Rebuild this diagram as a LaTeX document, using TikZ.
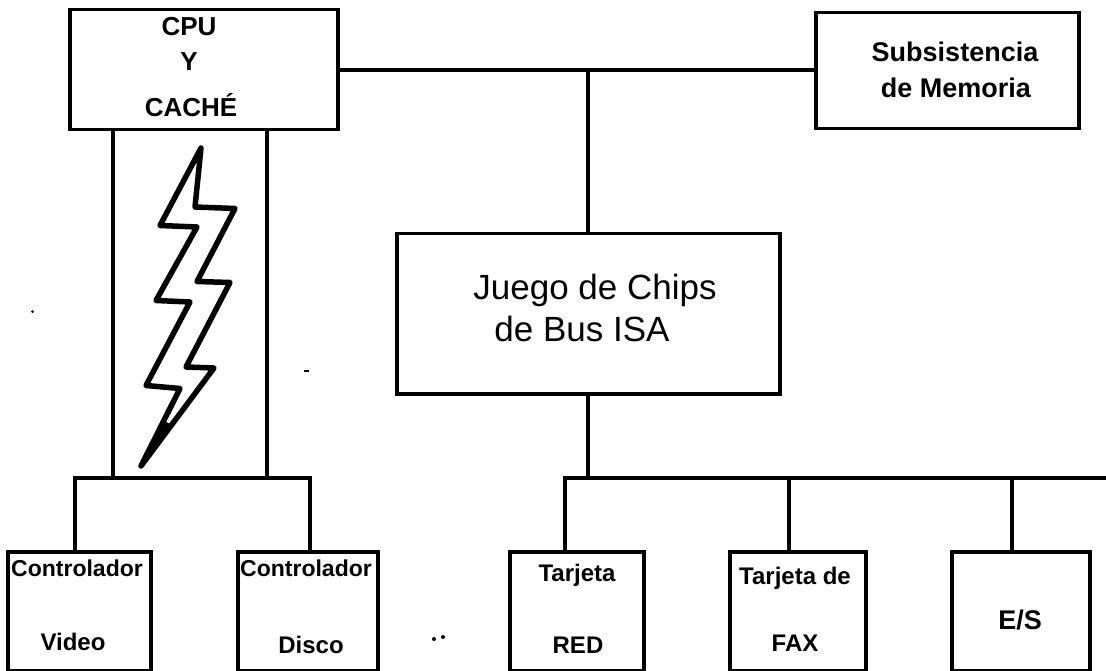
\documentclass[tikz,border=0pt]{standalone}
\usepackage{fontspec}
\setmainfont{Liberation Sans}
\tikzset{
  x=1pt,y=-1pt,
  unit/.style={draw=black,line width=3.5pt,minimum width=0pt,minimum height=0pt,inner sep=0pt,anchor=north west},
  wire/.style={draw=black,line width=4pt},
  thinwire/.style={draw=black,line width=3.5pt},
  bolt/.style={draw=black,line width=5.5pt,line join=round,line cap=round},
  lbl/.style={font=\bfseries\fontsize{24}{24}\selectfont,inner sep=0pt,anchor=center},
  cpulbl/.style={font=\bfseries\fontsize{26}{26}\selectfont,inner sep=0pt,anchor=center},
  memlbl/.style={font=\bfseries\fontsize{27}{27}\selectfont,inner sep=0pt,anchor=center},
  biglbl/.style={font=\fontsize{35}{35}\selectfont,inner sep=0pt,anchor=center},
}
\newcommand{\unitbox}[5]{\node[unit,minimum width=#4pt-#2pt,minimum height=#5pt-#3pt] (#1) at (#2,#3) {};}
\begin{document}
\begin{tikzpicture}
\useasboundingbox (0,0) rectangle (1106,671);
\unitbox{cpu}{68}{8}{336}{128}
\unitbox{mem}{814}{11}{1077}{127}
\unitbox{isa}{395}{232}{778}{392}
\unitbox{video}{6}{550}{149}{669}
\unitbox{disco}{236}{550}{376}{669}
\unitbox{red}{508}{550}{642}{669}
\unitbox{fax}{728}{550}{864}{669}
\unitbox{es}{950}{550}{1088}{669}
\coordinate (busR) at (1106,478);
\coordinate (busL) at (565,478);
\coordinate (junA) at (588,70);
\coordinate (junB) at (588,478);
\coordinate (vbL) at (75,478);
\coordinate (vbR) at (310,478);
\draw[wire] (cpu.east |- junA) -- (junA) -- (mem.west |- junA);
\draw[thinwire] (junA) -- (junA |- isa.north);
\draw[thinwire] (junB |- isa.south) -- (junB);
\draw[wire] (busL |- red.north) -- (busL) -- (busR);
\draw[wire] (789,478) -- (789,550);
\draw[wire] (1012,478) -- (1012,550);
\draw[wire] (vbL |- video.north) -- (vbL) -- (vbR) -- (vbR |- disco.north);
\draw[thinwire] (113,128) -- (113,478);
\draw[thinwire] (267,128) -- (267,478);
\draw[bolt]
 (201,148) -- (195,207) -- (235,208.5) -- (197,281.5) -- (230,282.5) -- (186,367) -- (214,368) -- (141,466) -- (180,388.5) -- (146,385.5) -- (190,302) -- (156,300.5) -- (197,227) -- (160,225.5) -- cycle;
\fill[black] (140,468) -- (163,420) -- (170,424) -- cycle;
\node[cpulbl] (t1) at (189,27) {CPU};
\node[cpulbl] (t2) at (189,62) {Y};
\node[cpulbl] (t3) at (191,105) {CACHÉ};
\node[memlbl] (t4) at (955,52) {Subsistencia};
\node[memlbl] (t5) at (956,88) {de Memoria};
\node[biglbl] (t6) at (595,290) {Juego de Chips};
\node[biglbl] (t7) at (582,329) {de Bus ISA};
\node[lbl,font=\bfseries\fontsize{23}{23}\selectfont] (t8) at (77,568) {Controlador};
\node[lbl] (t9) at (73,642) {Video};
\node[lbl,font=\bfseries\fontsize{23}{23}\selectfont] (t10) at (306,568) {Controlador};
\node[lbl] (t11) at (311,645) {Disco};
\node[lbl] (t12) at (577,575) {Tarjeta};
\node[lbl] (t13) at (578,645) {RED};
\node[lbl] (t14) at (795,578) {Tarjeta de};
\node[lbl] (t15) at (795,643) {FAX};
\node[lbl,font=\bfseries\fontsize{27}{27}\selectfont] (t16) at (1020,620) {E/S};
\fill[black] (434,639) circle (2pt) (443,637) circle (2pt);
\fill[black] (32.5,311.5) circle (1.5pt);
\fill[black] (304,370) rectangle (309,372);
\end{tikzpicture}
\end{document}
